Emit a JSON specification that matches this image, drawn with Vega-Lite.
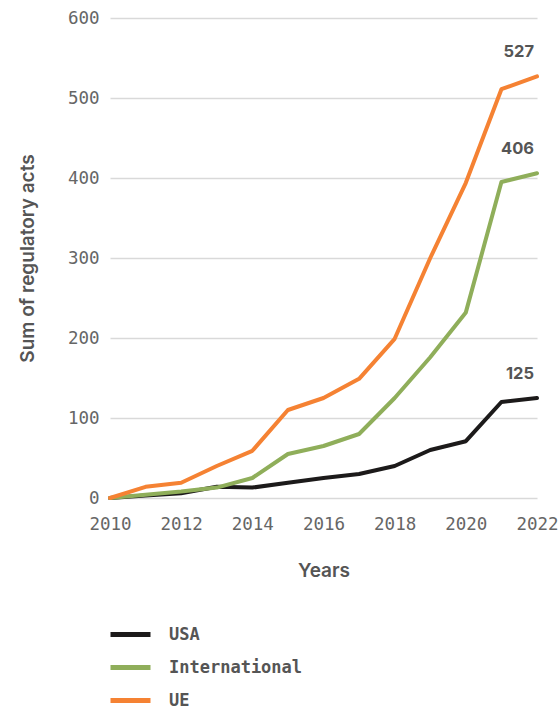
{
  "$schema": "https://vega.github.io/schema/vega-lite/v6.json",
  "autosize": "none",
  "width": 427,
  "height": 480,
  "padding": {"left": 110, "top": 18, "right": 23, "bottom": 211},
  "background": "white",
  "config": {"view": {"stroke": null}},
  "data": {"values": [
    {"year": 2010, "region": "USA", "value": 0},
    {"year": 2011, "region": "USA", "value": 3},
    {"year": 2012, "region": "USA", "value": 6},
    {"year": 2013, "region": "USA", "value": 14},
    {"year": 2014, "region": "USA", "value": 13},
    {"year": 2015, "region": "USA", "value": 19},
    {"year": 2016, "region": "USA", "value": 25},
    {"year": 2017, "region": "USA", "value": 30},
    {"year": 2018, "region": "USA", "value": 40},
    {"year": 2019, "region": "USA", "value": 60},
    {"year": 2020, "region": "USA", "value": 71},
    {"year": 2021, "region": "USA", "value": 120},
    {"year": 2022, "region": "USA", "value": 125},
    {"year": 2010, "region": "International", "value": 0},
    {"year": 2011, "region": "International", "value": 4},
    {"year": 2012, "region": "International", "value": 8},
    {"year": 2013, "region": "International", "value": 13},
    {"year": 2014, "region": "International", "value": 25},
    {"year": 2015, "region": "International", "value": 55},
    {"year": 2016, "region": "International", "value": 65},
    {"year": 2017, "region": "International", "value": 80},
    {"year": 2018, "region": "International", "value": 125},
    {"year": 2019, "region": "International", "value": 176},
    {"year": 2020, "region": "International", "value": 232},
    {"year": 2021, "region": "International", "value": 395},
    {"year": 2022, "region": "International", "value": 406},
    {"year": 2010, "region": "UE", "value": 0},
    {"year": 2011, "region": "UE", "value": 14},
    {"year": 2012, "region": "UE", "value": 19},
    {"year": 2013, "region": "UE", "value": 40},
    {"year": 2014, "region": "UE", "value": 59},
    {"year": 2015, "region": "UE", "value": 110},
    {"year": 2016, "region": "UE", "value": 125},
    {"year": 2017, "region": "UE", "value": 149},
    {"year": 2018, "region": "UE", "value": 199},
    {"year": 2019, "region": "UE", "value": 300},
    {"year": 2020, "region": "UE", "value": 394},
    {"year": 2021, "region": "UE", "value": 511},
    {"year": 2022, "region": "UE", "value": 527}
  ]},
  "encoding": {
    "x": {
      "field": "year", "type": "quantitative",
      "scale": {"domain": [2010, 2022], "nice": false, "zero": false},
      "axis": {
        "title": "Years", "values": [2010, 2012, 2014, 2016, 2018, 2020, 2022],
        "format": "d", "grid": false, "domain": false, "ticks": false,
        "labelFont": "DejaVu Sans Mono", "labelFontSize": 17.5, "labelColor": "#666666",
        "labelPadding": 17, "labelOverlap": false, "labelFlush": false,
        "titleFont": "Inter", "titleFontSize": 19, "titleFontWeight": 600,
        "titleColor": "#555555", "titlePadding": 29
      }
    },
    "y": {
      "field": "value", "type": "quantitative",
      "scale": {"domain": [0, 600], "nice": false},
      "axis": {
        "title": "Sum of regulatory acts", "values": [0, 100, 200, 300, 400, 500, 600],
        "grid": true, "gridColor": "#d9d9d9", "gridWidth": 1.5,
        "domain": false, "ticks": false,
        "labelFont": "DejaVu Sans Mono", "labelFontSize": 17.5, "labelColor": "#666666",
        "labelPadding": 11,
        "titleFont": "Inter", "titleFontSize": 19, "titleFontWeight": 600,
        "titleColor": "#555555", "titlePadding": 30
      }
    },
    "color": {
      "field": "region", "type": "nominal",
      "scale": {"domain": ["USA", "International", "UE"], "range": ["#1c1a1a", "#8fae5a", "#f58233"]},
      "legend": {
        "title": null, "orient": "none", "legendX": -2, "legendY": 594,
        "symbolType": "stroke", "symbolSize": 1600, "symbolStrokeWidth": 5,
        "labelFont": "DejaVu Sans Mono", "labelFontSize": 17, "labelFontWeight": "bold",
        "labelColor": "#555555", "labelOffset": 16, "rowPadding": -8
      }
    }
  },
  "layer": [
    {
      "mark": {"type": "line", "strokeWidth": 4, "strokeCap": "round", "strokeJoin": "round"},
      "encoding": {"order": {"field": "year"}}
    },
    {
      "transform": [{"filter": "datum.year == 2022"}],
      "mark": {"type": "text", "align": "right", "baseline": "bottom", "dx": -3, "dy": -16,
               "font": "Inter", "fontSize": 16.5, "fontWeight": "bold", "color": "#555555"},
      "encoding": {"text": {"field": "value", "type": "quantitative"}, "color": {"value": "#555555"}}
    }
  ]
}
